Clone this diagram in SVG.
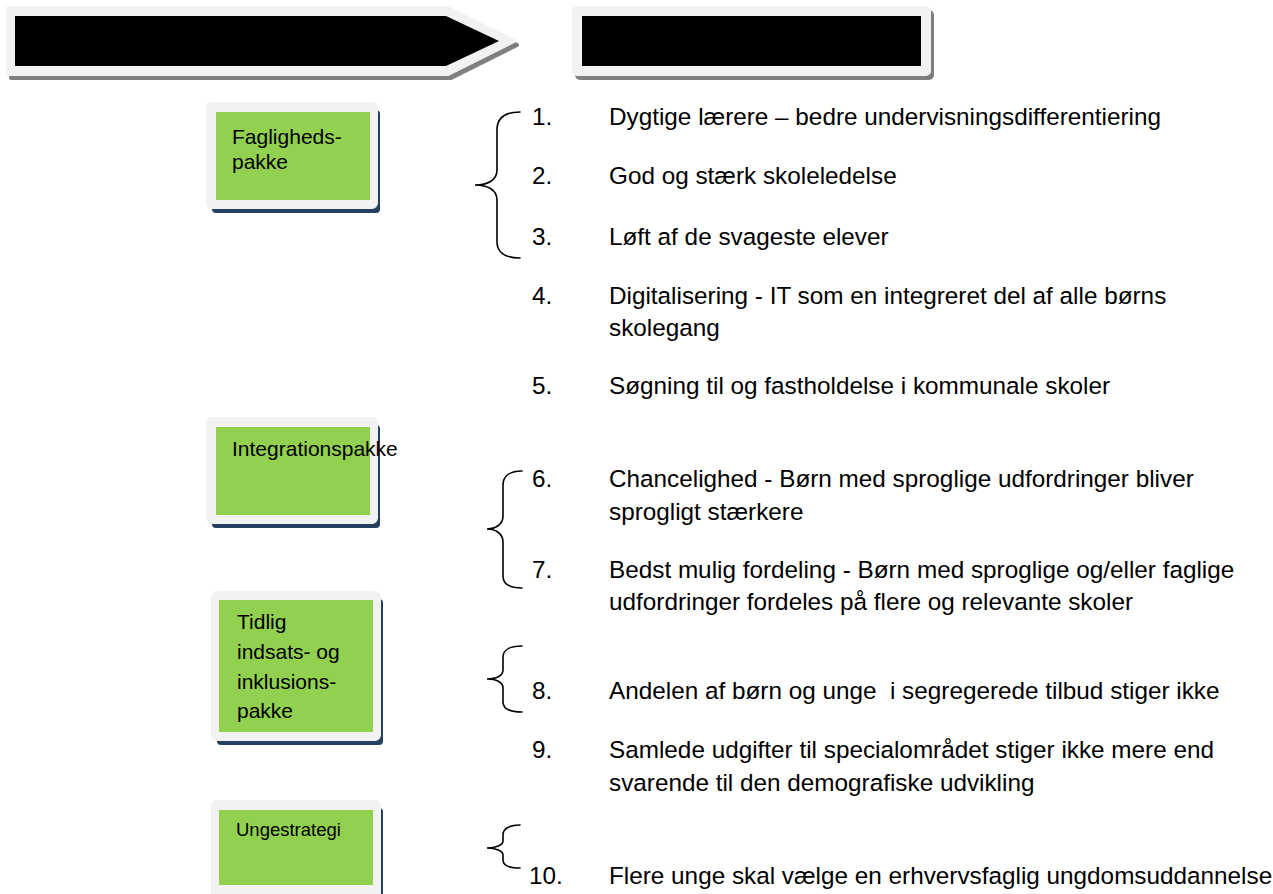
<svg xmlns="http://www.w3.org/2000/svg" width="1273" height="894" viewBox="0 0 1273 894">
<style>
.frame{fill:#f2f2f2;stroke:#f2f2f2;stroke-width:4;stroke-linejoin:round}
.gshadow{fill:#7f7f7f;stroke:#7f7f7f;stroke-width:4;stroke-linejoin:round}
.nshadow{fill:#243f60}
.green{fill:#92d050}
.blk{fill:#000}
.bt{font-family:"Liberation Sans",Arial,sans-serif;font-size:21px;fill:#000}
.lt{font-family:"Liberation Sans",Arial,sans-serif;font-size:24.3px;fill:#000}
.brace{fill:none;stroke:#000;stroke-width:1.6;stroke-linecap:round}
</style>
<rect width="1273" height="894" fill="#fff"/>
<g id="header-arrow">
<path class="gshadow" d="M11,12 L451,12 L517,45 L451,78 L11,78 Z"/>
<path class="frame" d="M8,8 L448,8 L514,41 L448,74 L8,74 Z"/>
<path class="blk" d="M15,16 L446,16 L499,41 L446,66 L15,66 Z"/>
</g>
<g id="header-box">
<rect class="gshadow" x="577" y="12" width="355" height="66" rx="3"/>
<rect class="frame" x="574" y="8" width="355" height="66" rx="3"/>
<rect class="blk" x="582" y="16" width="339" height="50"/>
</g>
<g id="node-faglighed">
<rect class="nshadow" x="212" y="110" width="168" height="103" rx="4"/>
<rect class="frame" x="208" y="104" width="168" height="103" rx="4"/>
<rect class="green" x="216" y="112" width="154" height="88"/>
<text class="bt" x="232" y="144">Fagligheds-</text>
<text class="bt" x="232" y="169">pakke</text>
</g>
<g id="node-integration">
<rect class="nshadow" x="212" y="425" width="168" height="103" rx="4"/>
<rect class="frame" x="208" y="419" width="168" height="103" rx="4"/>
<rect class="green" x="216" y="427" width="154" height="88"/>
<text class="bt" x="232" y="456">Integrationspakke</text>
</g>
<g id="node-tidlig">
<rect class="nshadow" x="217" y="599" width="166" height="146" rx="4"/>
<rect class="frame" x="213" y="593" width="166" height="146" rx="4"/>
<rect class="green" x="219" y="600" width="154" height="132"/>
<text class="bt" x="237" y="629">Tidlig</text>
<text class="bt" x="237" y="659">indsats- og</text>
<text class="bt" x="237" y="689">inklusions-</text>
<text class="bt" x="237" y="718">pakke</text>
</g>
<g id="node-unge">
<rect class="nshadow" x="217" y="808" width="166" height="100" rx="4"/>
<rect class="frame" x="213" y="802" width="166" height="100" rx="4"/>
<rect class="green" x="219" y="810" width="154" height="75"/>
<text class="bt" x="236" y="836" style="font-size:18.5px">Ungestrategi</text>
</g>
<g id="connectors">
<path class="brace" d="M520,112 C505,112 497,118 497,130 L497,170 C497,180 488,185 475,185 C488,185 497,190 497,200 L497,242 C497,252 505,258 520,258"/>
<path class="brace" d="M522,471 C510,471 503,476 503,485 L503,516 C503,524 496,529 487,529 C496,529 503,534 503,542 L503,576 C503,584 510,588 522,588"/>
<path class="brace" d="M522,646 C510,646 503,650 503,657 L503,670 C503,676 496,679 487,679 C496,679 503,682 503,688 L503,702 C503,709 510,712 522,712"/>
<path class="brace" d="M520,825 C509,825 503,829 503,835 L503,841 C503,845 496,848 487,848 C496,848 503,851 503,855 L503,860 C503,865 509,868 520,868"/>
</g>
<g id="list">
<text class="lt" x="532" y="125">1.</text><text class="lt" x="609" y="125">Dygtige lærere – bedre undervisningsdifferentiering</text>
<text class="lt" x="532" y="184">2.</text><text class="lt" x="609" y="184">God og stærk skoleledelse</text>
<text class="lt" x="532" y="245">3.</text><text class="lt" x="609" y="245">Løft af de svageste elever</text>
<text class="lt" x="532" y="304">4.</text><text class="lt" x="609" y="304">Digitalisering - IT som en integreret del af alle børns</text>
<text class="lt" x="609" y="336">skolegang</text>
<text class="lt" x="532" y="394">5.</text><text class="lt" x="609" y="394">Søgning til og fastholdelse i kommunale skoler</text>
<text class="lt" x="532" y="487">6.</text><text class="lt" x="609" y="487">Chancelighed - Børn med sproglige udfordringer bliver</text>
<text class="lt" x="609" y="520">sprogligt stærkere</text>
<text class="lt" x="532" y="578">7.</text><text class="lt" x="609" y="578">Bedst mulig fordeling - Børn med sproglige og/eller faglige</text>
<text class="lt" x="609" y="610">udfordringer fordeles på flere og relevante skoler</text>
<text class="lt" x="532" y="699">8.</text><text class="lt" x="609" y="699" xml:space="preserve">Andelen af børn og unge  i segregerede tilbud stiger ikke</text>
<text class="lt" x="532" y="758">9.</text><text class="lt" x="609" y="758">Samlede udgifter til specialområdet stiger ikke mere end</text>
<text class="lt" x="609" y="791">svarende til den demografiske udvikling</text>
<text class="lt" x="529" y="884">10.</text><text class="lt" x="609" y="884">Flere unge skal vælge en erhvervsfaglig ungdomsuddannelse</text>
</g>
</svg>
